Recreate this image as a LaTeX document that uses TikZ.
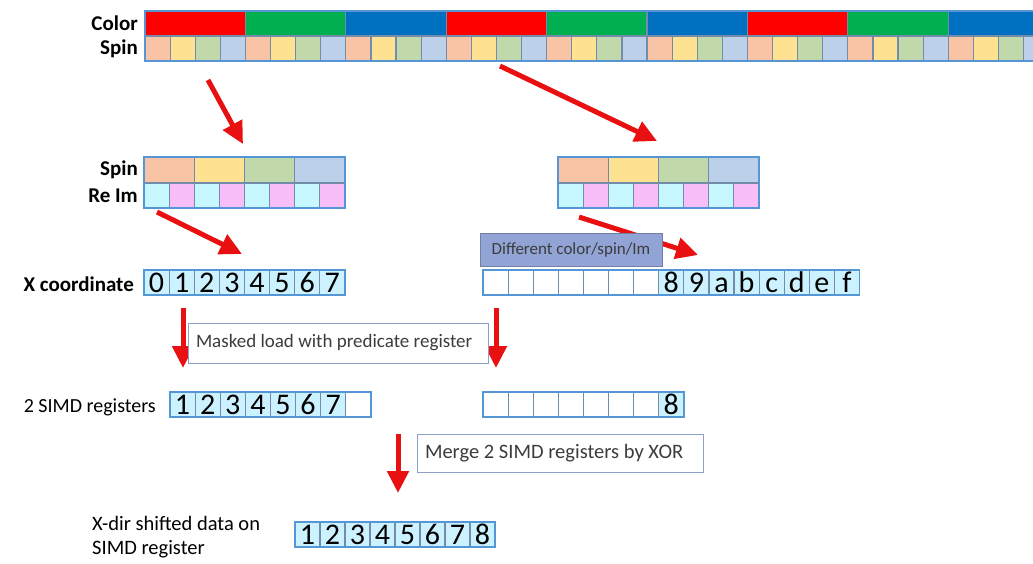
\documentclass[tikz,border=0pt]{standalone}
\usepackage{fontspec}
\setmainfont{Carlito}
\usetikzlibrary{arrows.meta, positioning, calc}
\definecolor{colred}{RGB}{255, 0, 0}
\definecolor{colgreen}{RGB}{0, 176, 80}
\definecolor{colblue}{RGB}{0, 112, 192}
\definecolor{spinor}{RGB}{248, 196, 165}
\definecolor{spinye}{RGB}{255, 226, 145}
\definecolor{spingr}{RGB}{192, 216, 170}
\definecolor{spinbl}{RGB}{188, 208, 234}
\definecolor{recyan}{RGB}{200, 248, 255}
\definecolor{impink}{RGB}{248, 190, 248}
\definecolor{digcyan}{RGB}{204, 242, 255}
\definecolor{cellgray}{RGB}{115, 140, 170}
\definecolor{frameblue}{RGB}{85, 150, 215}
\definecolor{boxline}{RGB}{140, 160, 200}
\definecolor{diffblue}{RGB}{146, 164, 214}
\definecolor{textgray}{RGB}{60, 60, 60}
\definecolor{arrowred}{RGB}{232, 16, 16}

\begin{document}
\begin{tikzpicture}[x=1pt, y=-1pt,
  cell/.style={draw=cellgray, line width=1.2pt, minimum width=25.1pt, minimum height=25pt, inner sep=0pt, outer sep=0pt, anchor=north west, text height=20pt, text depth=0pt, font=\fontsize{30}{30}\selectfont},
  frame/.style={draw=frameblue, line width=1.6pt},
  lbl/.style={anchor=east, inner sep=0pt, font=\fontsize{21}{23}\selectfont\bfseries},
  plainlbl/.style={anchor=east, inner sep=0pt, font=\fontsize{20}{22}\selectfont},
  note/.style={draw=boxline, fill=white, line width=0.8pt, text=textgray, align=flush left, inner xsep=8pt},
  diffnote/.style={draw=boxline!80!black, fill=diffblue, line width=0.5pt, text=textgray, font=\fontsize{17}{19}\selectfont},
  redarrow/.style={-{Triangle[length=22pt, width=21pt]}, line width=5pt, arrowred}
]
\clip (0, 0) rectangle (1033, 563);

% Color / spin bar
\foreach \c [count=\i from 0] in {colred,colgreen,colblue,colred,colgreen,colblue,colred,colgreen,colblue}
  \node[cell, fill=\c, minimum width=100.4pt] (col\i) at (145+\i*100.4, 11) {};
\foreach \k in {0,...,8}
  \foreach \s [count=\j from 0] in {spinor,spinye,spingr,spinbl}
    \node[cell, fill=\s] (sp\k\j) at (145+\k*100.4+\j*25.1, 36) {};
\draw[frame] (col0.north west) rectangle (sp83.south east);

\node[lbl] (colorLbl) at (138, 23) {Color};
\node[lbl] (spinLbl) at (138, 49) {Spin};

% Spin / Re Im groups
\foreach \gx/\gn in {144/l, 558/r} {
  \foreach \s [count=\j from 0] in {spinor,spinye,spingr,spinbl}
    \node[cell, fill=\s, minimum width=50.2pt, minimum height=26pt] (\gn sp\j) at (\gx+\j*50.2, 157) {};
  \foreach \r [count=\j from 0] in {recyan,impink,recyan,impink,recyan,impink,recyan,impink}
    \node[cell, fill=\r] (\gn ri\j) at (\gx+\j*25.1, 183) {};
  \draw[frame] (\gn sp0.north west) rectangle (\gn ri7.south east);
}

\node[lbl] (spinLblL) at (138, 170) {Spin};
\node[lbl] (reimLbl) at (138, 196) {Re Im};

% X coordinate
\foreach \d [count=\j from 0] in {0,...,7}
  \node[cell, fill=digcyan] (xl\j) at (144+\j*25.1, 270) {\d};
\draw[frame] (xl0.north west) rectangle (xl7.south east);
\node[lbl] (xLbl) at (134, 284) {X coordinate};

\foreach \j in {0,...,6}
  \node[cell, fill=white] (xr\j) at (483+\j*25.1, 270) {};
\foreach \d [count=\j from 7] in {8,9,a,b,c,d,e,f}
  \node[cell, fill=digcyan] (xr\j) at (483+\j*25.1, 270) {\d};
\draw[frame] (xr0.north west) rectangle (xr14.south east);

% SIMD registers
\foreach \d [count=\j from 0] in {1,...,7}
  \node[cell, fill=digcyan] (sl\j) at (170+\j*25.1, 392) {\d};
\node[cell, fill=white] (sl7) at (170+7*25.1, 392) {};
\draw[frame] (sl0.north west) rectangle (sl7.south east);
\node[plainlbl] (simdLbl) at (156, 407) {2 SIMD registers};

\foreach \j in {0,...,6}
  \node[cell, fill=white] (sr\j) at (483+\j*25.1, 392) {};
\node[cell, fill=digcyan] (sr7) at (483+7*25.1, 392) {8};
\draw[frame] (sr0.north west) rectangle (sr7.south east);

% Shifted result
\foreach \d [count=\j from 0] in {1,...,8}
  \node[cell, fill=digcyan, minimum width=25pt] (sh\j) at (295+\j*25, 522) {\d};
\draw[frame] (sh0.north west) rectangle (sh7.south east);
\node[anchor=west, align=left, inner sep=0pt, font=\fontsize{20.5}{24}\selectfont] (shiftLbl) at (92, 537) {X-dir shifted data on\\SIMD register};

% Arrows
\coordinate (a1s) at (208, 80);  \coordinate (a1e) at (243, 144);
\coordinate (a2s) at (500, 66);  \coordinate (a2e) at (657, 141);
\coordinate (a3s) at (157, 212); \coordinate (a3e) at (242, 254);
\coordinate (a4s) at (579, 217); \coordinate (a4e) at (698, 255);
\coordinate (a5s) at (183, 308); \coordinate (a5e) at (183, 368);
\coordinate (a6s) at (496, 308); \coordinate (a6e) at (496, 368);
\coordinate (a7s) at (398, 434); \coordinate (a7e) at (398, 493);
\foreach \a in {1,...,7}
  \draw[redarrow] (a\a s) -- (a\a e);

% Notes
\node[diffnote, minimum width=182pt, minimum height=33pt] (diffNote) at (571, 249.5) {Different color/spin/Im};
\node[note, text width=284pt, minimum height=40pt, font=\fontsize{19}{21}\selectfont] (maskNote) at (338, 343) {Masked load with predicate register};
\node[note, text width=270pt, minimum height=38pt, font=\fontsize{20.5}{22}\selectfont] (mergeNote) at (560, 453) {Merge 2 SIMD registers by XOR};

\end{tikzpicture}
\end{document}
